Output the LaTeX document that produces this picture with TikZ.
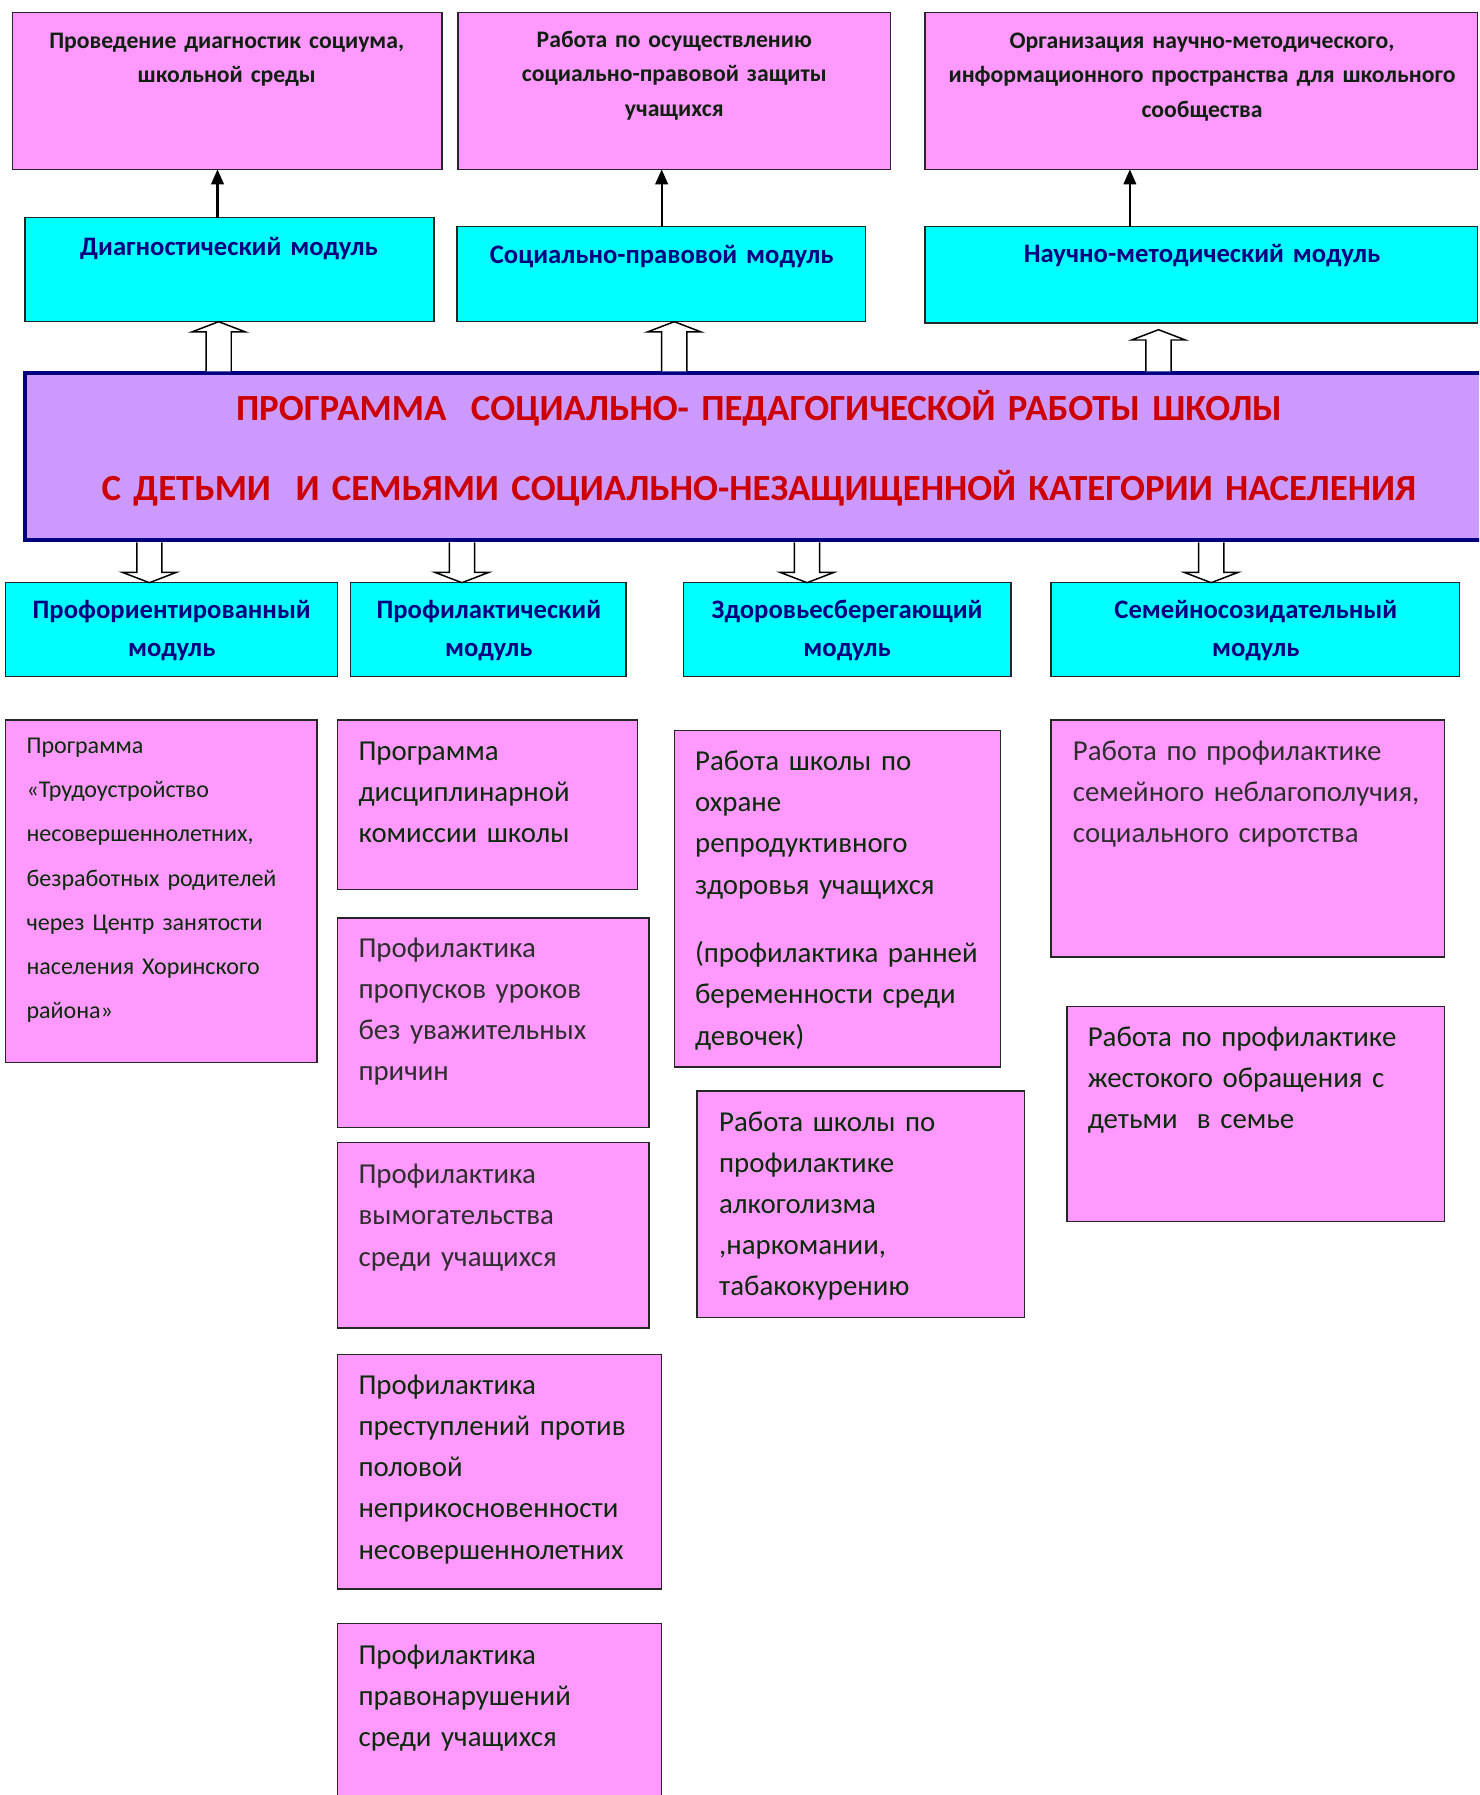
\documentclass[tikz,border=0pt]{standalone}
\usepackage{fontspec}
\setmainfont{Carlito}
\usetikzlibrary{arrows.meta,calc}
\definecolor{pinkf}{HTML}{FF99FF}
\definecolor{cyanf}{HTML}{00FFFF}
\definecolor{lilac}{HTML}{CC99FF}
\definecolor{navyb}{HTML}{000080}
\definecolor{titlered}{HTML}{CC0000}
\definecolor{dgreen}{HTML}{0A2A0A}
\definecolor{dgray}{HTML}{2E2E2E}
\definecolor{toptxt}{HTML}{102010}
\newcommand\rectnode[6]{\node[#1, anchor=north west, minimum width={#5-#3}, minimum height={#6-#4}] (#2) at (#3,-#4) {};}
\newcommand\hollowup[4]{%
 \draw[hollow] ($(#1 |- #2)+(-11,1.7)$) -- ($(#1 |- #3)+(-11,-#4-9)$) -- ($(#1 |- #3)+(-23.5,-#4-9)$) -- ($(#1 |- #3)+(0,-#4)$) -- ($(#1 |- #3)+(23.5,-#4-9)$) -- ($(#1 |- #3)+(11,-#4-9)$) -- ($(#1 |- #2)+(11,1.7)$);}
\newcommand\hollowdown[3]{%
 \draw[hollow] ($(#1 |- #2)+(-11,-1.7)$) -- ($(#1 |- #3)+(-11,9)$) -- ($(#1 |- #3)+(-23.5,9)$) -- ($(#1 |- #3)+(0,0)$) -- ($(#1 |- #3)+(23.5,9)$) -- ($(#1 |- #3)+(11,9)$) -- ($(#1 |- #2)+(11,-1.7)$);}
\begin{document}
\begin{tikzpicture}[x=1pt,y=1pt,
  pinkbox/.style={draw=black!85, line width=1.3, fill=pinkf, inner sep=0, outer sep=0},
  cyanbox/.style={draw=black!85, line width=1.3, fill=cyanf, inner sep=0, outer sep=0},
  mainbox/.style={draw=navyb, line width=3.5, fill=lilac, inner sep=0, outer sep=0},
  toptext/.style={anchor=base, text width=#1, align=center, inner sep=0, text=toptxt, font={\fontsize{20.7}{30}\selectfont\bfseries}},
  modtext/.style={anchor=base, text width=#1, align=center, inner sep=0, text=navyb, font={\fontsize{23.3}{33}\selectfont\bfseries}},
  titletext/.style={anchor=base, text width=1280, align=center, inner sep=0, text=titlered, font={\fontsize{32.2}{70}\selectfont\bfseries}},
  smalltext/.style={anchor=base west, text width=265, align=left, inner sep=0, text=dgreen, font={\fontsize{21}{38.5}\selectfont}},
  bodytext/.style={anchor=base west, text width=340, align=left, inner sep=0, text=#1, font={\fontsize{25.2}{36}\selectfont}},
  bodytext/.default=dgreen,
  thinarrow/.style={line width=1.8, -{Triangle[length=13,width=11]}},
  hollow/.style={draw=black, line width=1.3, fill=white, line join=miter}
]
\useasboundingbox (0,0) rectangle (1292,-1568);
\fill[white] (0,0) rectangle (1292,-1568);
\clip (0,0) rectangle (1292,-1568);

% top pink boxes
\rectnode{pinkbox}{top1}{11}{11}{386}{148}
\rectnode{pinkbox}{top2}{400}{11}{778}{148}
\rectnode{pinkbox}{top3}{808}{11}{1290.5}{148}
\node[toptext=370] (t1) at (198,-42.5) {Проведение диагностик социума,\\школьной среды};
\node[toptext=370] (t2) at (589,-41.5) {Работа по осуществлению\\социально-правовой защиты\\учащихся};
\node[toptext=480] (t3) at (1050,-42.5) {Организация научно-методического,\\информационного пространства для школьного\\сообщества};

% upper modules
\rectnode{cyanbox}{dm}{22}{190}{379}{281}
\rectnode{cyanbox}{spm}{399}{198}{756}{281}
\rectnode{cyanbox}{nmm}{808}{198}{1290.5}{282}
\node[modtext=350] (dmt) at (200,-223.5) {Диагностический модуль};
\node[modtext=350] (spmt) at (578,-230.5) {Социально-правовой модуль};
\node[modtext=470] (nmmt) at (1050,-229.5) {Научно-методический модуль};

% x positions of connectors
\coordinate (xa1) at (190,0);
\coordinate (xa2) at (578,0);
\coordinate (xa3) at (987,0);
\coordinate (xu1) at (191,0);
\coordinate (xu2) at (589,0);
\coordinate (xu3) at (1012,0);
\coordinate (xd1) at (130.5,0);
\coordinate (xd2) at (403.5,0);
\coordinate (xd3) at (705,0);
\coordinate (xd4) at (1058,0);

\draw[thinarrow] (xa1 |- dm.north) -- (xa1 |- top1.south);
\draw[thinarrow] (xa2 |- spm.north) -- (xa2 |- top2.south);
\draw[thinarrow] (xa3 |- nmm.north) -- (xa3 |- top3.south);

% main programme box
\rectnode{mainbox}{main}{22}{326}{1320}{472}
\node[titletext] (title) at (663,-367.5) {ПРОГРАММА~~СОЦИАЛЬНО- ПЕДАГОГИЧЕСКОЙ РАБОТЫ ШКОЛЫ\\С ДЕТЬМИ~~И СЕМЬЯМИ СОЦИАЛЬНО-НЕЗАЩИЩЕННОЙ КАТЕГОРИИ НАСЕЛЕНИЯ};

\hollowup{xu1}{main.north}{dm.south}{0}
\hollowup{xu2}{main.north}{spm.south}{0}
\hollowup{xu3}{main.north}{nmm.south}{6}

% lower modules
\rectnode{cyanbox}{m1}{5}{509}{295}{591}
\rectnode{cyanbox}{m2}{306}{509}{547}{591}
\rectnode{cyanbox}{m3}{597}{509}{883}{591}
\rectnode{cyanbox}{m4}{918}{509}{1275}{591}
\node[modtext=285] (m1t) at (150,-540.5) {Профориентированный\\модуль};
\node[modtext=235] (m2t) at (427,-540.5) {Профилактический\\модуль};
\node[modtext=280] (m3t) at (740,-540.5) {Здоровьесберегающий\\модуль};
\node[modtext=350] (m4t) at (1097,-540.5) {Семейносозидательный\\модуль};

\hollowdown{xd1}{main.south}{m1.north}
\hollowdown{xd2}{main.south}{m2.north}
\hollowdown{xd3}{main.south}{m3.north}
\hollowdown{xd4}{main.south}{m4.north}

% activity boxes
\rectnode{pinkbox}{b1}{5}{629}{277}{928}
\node[smalltext] (b1t) at (23,-658.5) {Программа\\«Трудоустройство\\несовершеннолетних,\\безработных родителей\\через Центр занятости\\населения Хоринского\\района»};

\rectnode{pinkbox}{c2a}{295}{629}{557}{777}
\rectnode{pinkbox}{c2b}{295}{802}{567}{985}
\rectnode{pinkbox}{c2c}{295}{998}{567}{1160}
\rectnode{pinkbox}{c2d}{295}{1183}{578}{1388}
\rectnode{pinkbox}{c2e}{295}{1418}{578}{1620}
\node[bodytext] (c2at) at (313,-664) {Программа\\дисциплинарной\\комиссии школы};
\node[bodytext=dgray] (c2bt) at (313,-836) {Профилактика\\пропусков уроков\\без уважительных\\причин};
\node[bodytext=dgray] (c2ct) at (313,-1034) {Профилактика\\вымогательства\\среди учащихся};
\node[bodytext] (c2dt) at (313,-1218) {Профилактика\\преступлений против\\половой\\неприкосновенности\\несовершеннолетних};
\node[bodytext] (c2et) at (313,-1454) {Профилактика\\правонарушений\\среди учащихся};

\rectnode{pinkbox}{c3a}{589}{638}{874}{932}
\rectnode{pinkbox}{c3b}{609}{953}{895}{1151}
\node[bodytext] (c3at) at (607,-673) {Работа школы по\\охране\\репродуктивного\\здоровья учащихся\\[24pt](профилактика ранней\\беременности среди\\девочек)};
\node[bodytext] (c3bt) at (628,-988) {Работа школы по\\профилактике\\алкоголизма\\,наркомании,\\табакокурению};

\rectnode{pinkbox}{c4a}{918}{629}{1262}{836}
\rectnode{pinkbox}{c4b}{932}{879}{1262}{1067}
\node[bodytext=dgray] (c4at) at (937,-664) {Работа по профилактике\\семейного неблагополучия,\\социального сиротства};
\node[bodytext] (c4bt) at (950,-914) {Работа по профилактике\\жестокого обращения с\\детьми~~в семье};
\end{tikzpicture}
\end{document}
